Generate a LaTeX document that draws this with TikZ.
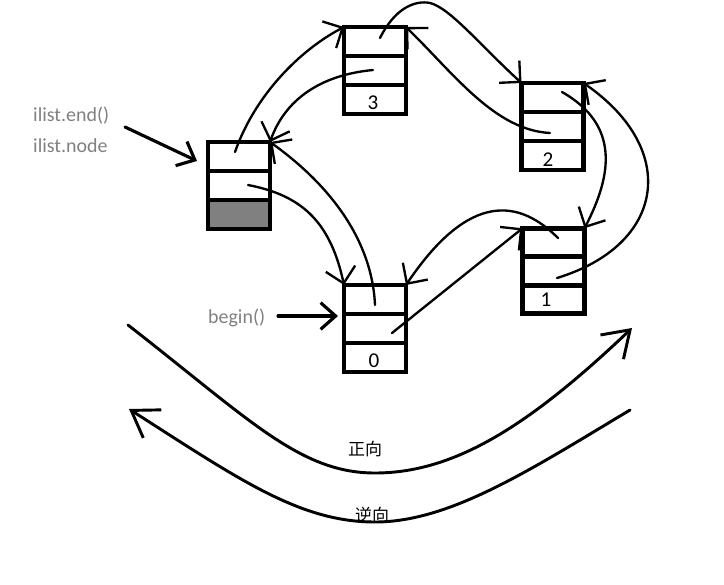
\documentclass[tikz,border=0pt]{standalone}
\usepackage{fontspec}
\setmainfont{Carlito}
\newfontfamily\cjk{Noto Sans CJK SC}
\usetikzlibrary{arrows.meta,positioning}

\definecolor{notegray}{RGB}{128,128,128}
\definecolor{endgray}{RGB}{128,128,128}

\tikzset{
  cell/.style={draw, line width=4pt, minimum width=1.86cm, minimum height=0.87cm,
    inner sep=0pt, outer sep=0pt},
  link/.style={line width=2pt, line cap=round, -{Straight Barb[length=4.5mm,width=9mm]}},
  pointer/.style={line width=2.7pt, line cap=round, -{Straight Barb[length=4.5mm,width=8mm]}},
  sweep/.style={line width=2.5pt, line cap=round, -{Straight Barb[length=7.5mm,width=10mm]}},
  note/.style={text=notegray, font=\fontsize{17}{20}\selectfont, inner sep=0pt, anchor=base west},
  num/.style={font=\fontsize{18}{20}\selectfont, inner sep=0pt},
  dir/.style={font=\cjk\fontsize{14.5}{16}\selectfont, inner sep=0pt},
}

\begin{document}
\begin{tikzpicture}[x=0.03cm, y=-0.03cm, node distance=0pt]
  \useasboundingbox (0,0) rectangle (724,585);

  % list nodes, three cells each
  \node[cell] (ea) at (239,156.5) {};
  \node[cell, below=of ea] (eb) {};
  \node[cell, below=of eb, fill=endgray] (ec) {};

  \node[cell] (b3a) at (375,41.5) {};
  \node[cell, below=of b3a] (b3b) {};
  \node[cell, below=of b3b] (b3c) {};

  \node[cell] (b2a) at (552.5,97.5) {};
  \node[cell, below=of b2a] (b2b) {};
  \node[cell, below=of b2b] (b2c) {};

  \node[cell, minimum height=0.855cm] (b1a) at (553.5,242.5) {};
  \node[cell, minimum height=0.855cm, below=of b1a] (b1b) {};
  \node[cell, minimum height=0.855cm, below=of b1b] (b1c) {};

  \node[cell] (b0a) at (375,299.5) {};
  \node[cell, below=of b0a] (b0b) {};
  \node[cell, below=of b0b] (b0c) {};

  \node[num] (n3) at (373,103) {3};
  \node[num] (n2) at (548,160) {2};
  \node[num] (n1) at (546,300) {1};
  \node[num] (n0) at (374,361) {0};

  % labels
  \node[note] (lend) at (33,121) {ilist.end()};
  \node[note] (lnode) at (33,152) {ilist.node};
  \node[note] (lbegin) at (208,323) {begin()};

  \coordinate (q1) at (125,127);
  \coordinate (q1t) at (197,161);
  \draw[pointer] (q1) -- (q1t);
  \coordinate (q2) at (278,316);
  \coordinate (q2t) at (338,316);
  \draw[pointer] (q2) -- (q2t);

  % next / prev links
  \coordinate (se) at (235,152);
  \coordinate (pe) at (248,185);
  \coordinate (s3) at (380,38);
  \coordinate (p3) at (373,70);
  \coordinate (s2) at (562,92);
  \coordinate (p2) at (550,133);
  \coordinate (s1) at (558,238);
  \coordinate (p1) at (557,278);
  \coordinate (s0) at (375,305);
  \coordinate (p0) at (392,333);

  \draw[link] (se) .. controls (255,95) and (300,50) .. (b3a.north west);
  \draw[link] (p3) .. controls (320,75) and (285,100) .. (ea.north east);
  \draw[link] (s3) .. controls (395,8) and (415,0) .. (430,3)
                   .. controls (450,8) and (480,45) .. (b2a.north west);
  \draw[link] (p2) .. controls (495,130) and (455,75) .. (b3a.north east);
  \draw[link] (s2) .. controls (620,125) and (612,175) .. (b1a.north east);
  \draw[link] (p1) .. controls (665,245) and (680,150) .. (b2a.north east);
  \draw[link] (s1) .. controls (520,200) and (470,190) .. (b0a.north east);
  \draw[link] (p0) -- (b1a.north west);
  \draw[link] (pe) .. controls (300,195) and (330,220) .. (b0a.north west);
  \draw[link] (s0) .. controls (372,240) and (330,185) .. (ea.north east);

  % directions
  \coordinate (fw0) at (128,325);
  \coordinate (fw1) at (632,328);
  \draw[sweep] (fw0) .. controls (250,420) and (300,473) .. (375,473)
                     .. controls (455,473) and (530,425) .. (fw1);
  \coordinate (bw0) at (630,410);
  \coordinate (bw1) at (129,409);
  \draw[sweep] (bw0) .. controls (530,470) and (450,522) .. (375,522)
                     .. controls (300,522) and (240,480) .. (bw1);

  \node[dir] (fwd) at (365,449) {正向};
  \node[dir] (bwd) at (372,515) {逆向};
\end{tikzpicture}
\end{document}
